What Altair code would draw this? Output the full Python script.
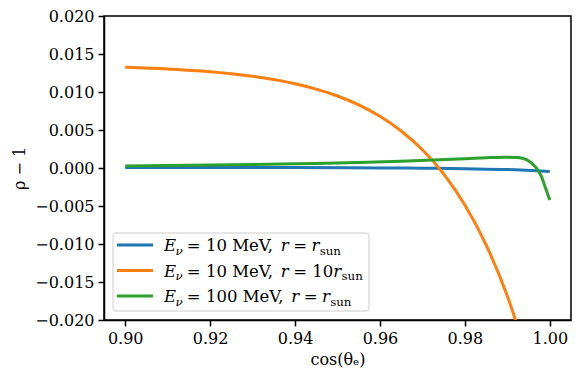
import altair as alt
import pandas as pd

# ---- data ----
series = ["blue", "orange", "green"]
colors = ["#1f77b4", "#ff7f0e", "#2ca02c"]

cos_blue = [0.900, 0.920, 0.940, 0.960, 0.970, 0.980, 0.990, 1.000]
rho_blue = [0.00008, 0.00007, 0.00005, 0.00001, -0.00003, -0.00010, -0.00020, -0.00045]

cos_orange = [0.900, 0.910, 0.920, 0.930, 0.940, 0.945, 0.950, 0.955, 0.960, 0.965,
              0.970, 0.975, 0.980, 0.985, 0.990, 0.995]
rho_orange = [0.01325, 0.01303, 0.01267, 0.01207, 0.01109, 0.01038, 0.00947, 0.00830, 0.00680, 0.00487,
              0.00240, -0.00078, -0.00487, -0.01011, -0.01683, -0.02548]

cos_green = [0.900, 0.920, 0.940, 0.955, 0.965, 0.974, 0.980, 0.985, 0.9896, 0.9925,
             0.9945, 0.9958, 0.9967, 0.9974, 0.9981, 0.9986, 0.9993, 1.000]
rho_green = [0.00025, 0.00038, 0.00055, 0.00072, 0.0009, 0.00108, 0.00122, 0.00135, 0.00143, 0.00138,
             0.0011, 0.0006, 0.0001, -0.0005, -0.0012, -0.0020, -0.0031, -0.0042]

x_ticks = [0.90, 0.92, 0.94, 0.96, 0.98, 1.00]
y_ticks = [-0.020, -0.015, -0.010, -0.005, 0.000, 0.005, 0.010, 0.015, 0.020]

# legend label pieces: (text, italic, subscript)
legend_rows = [
    [("E", True, False), ("ν", True, True), ("= 10 MeV,", False, False),
     ("r", True, False), ("=", False, False), ("r", True, False), ("sun", False, True)],
    [("E", True, False), ("ν", True, True), ("= 10 MeV,", False, False),
     ("r", True, False), ("= 10", False, False), ("r", True, False), ("sun", False, True)],
    [("E", True, False), ("ν", True, True), ("= 100 MeV,", False, False),
     ("r", True, False), ("=", False, False), ("r", True, False), ("sun", False, True)],
]

frames = []
for name, xs, ys in [("blue", cos_blue, rho_blue), ("orange", cos_orange, rho_orange),
                     ("green", cos_green, rho_green)]:
    frames.append(pd.DataFrame({"cos": xs, "rho": ys, "series": name}))
df = pd.concat(frames, ignore_index=True)

FONT = "DejaVu Serif"
FS = 16.5
SUB = 0.72 * FS

lines = alt.Chart(df).mark_line(strokeWidth=3, interpolate="monotone", clip=True).encode(
    x=alt.X("cos:Q",
            scale=alt.Scale(domain=[0.895, 1.005], nice=False, zero=False),
            axis=alt.Axis(values=x_ticks, format=".2f", title="cos(θₑ)")),
    y=alt.Y("rho:Q",
            scale=alt.Scale(domain=[-0.02, 0.02], nice=False, zero=False),
            axis=alt.Axis(values=y_ticks, format=".3f", title="ρ − 1")),
    color=alt.Color("series:N", scale=alt.Scale(domain=series, range=colors), legend=None),
    detail="series:N",
)

# ---- hand-built legend (matplotlib style) ----
W = {" ": 0.318, "=": 0.838, ",": 0.318, "M": 0.995, "e": 0.592, "V": 0.722,
     "s": 0.513, "u": 0.644, "n": 0.644, "r": 0.49, "E": 0.726, "ν": 0.58}
for d in "0123456789":
    W[d] = 0.636


def width(t, size):
    return sum(W.get(c, 0.6) for c in t) * size


dummy = pd.DataFrame({"a": [0]})
layers = [lines]
box = alt.Chart(dummy).mark_rect(fill="white", fillOpacity=0.8, stroke="#cccccc",
                                 strokeWidth=1, cornerRadius=3).encode(
    x=alt.value(9), x2=alt.value(265), y=alt.value(217), y2=alt.value(295))
layers.append(box)

gap = 0.27 * FS
for i, row in enumerate(legend_rows):
    yc = 229 + i * 25.5
    layers.append(alt.Chart(dummy).mark_rule(color=colors[i], strokeWidth=3).encode(
        x=alt.value(13), x2=alt.value(49), y=alt.value(yc)))
    x = 60.0
    base = yc + 6
    for j, (t, it, sub) in enumerate(row):
        size = SUB if sub else FS
        yb = base + (3.5 if sub else 0)
        layers.append(alt.Chart(dummy).mark_text(
            text=t, font=FONT, fontSize=size, fontStyle="italic" if it else "normal",
            align="left", baseline="alphabetic", color="black").encode(
            x=alt.value(x), y=alt.value(yb)))
        x += width(t, size)
        # spacing after this piece
        if j == 0:
            x -= 0.5
        elif j == 1:
            x += gap
        elif j == 2:
            x += 0.318 * FS
        elif j == 3:
            x += gap
        elif j == 4:
            x += gap if t == "=" else 0.0

chart = alt.layer(*layers).properties(
    width=467, height=304, autosize="none",
    padding={"left": 96, "top": 8, "right": 2, "bottom": 50},
).configure_view(stroke="black", strokeWidth=1.5).configure_axis(
    labelFont=FONT, labelFontSize=16, labelColor="black",
    titleFont=FONT, titleFontSize=16, titleFontWeight="normal", titleColor="black",
    tickColor="black", tickSize=6, tickWidth=1.5, domainColor="black", domainWidth=1.5,
    grid=False, labelPadding=4,
).configure_axisX(titlePadding=5).configure_axisY(titlePadding=7)

chart.save("out.html", embed_options={"renderer": "svg", "actions": False})
